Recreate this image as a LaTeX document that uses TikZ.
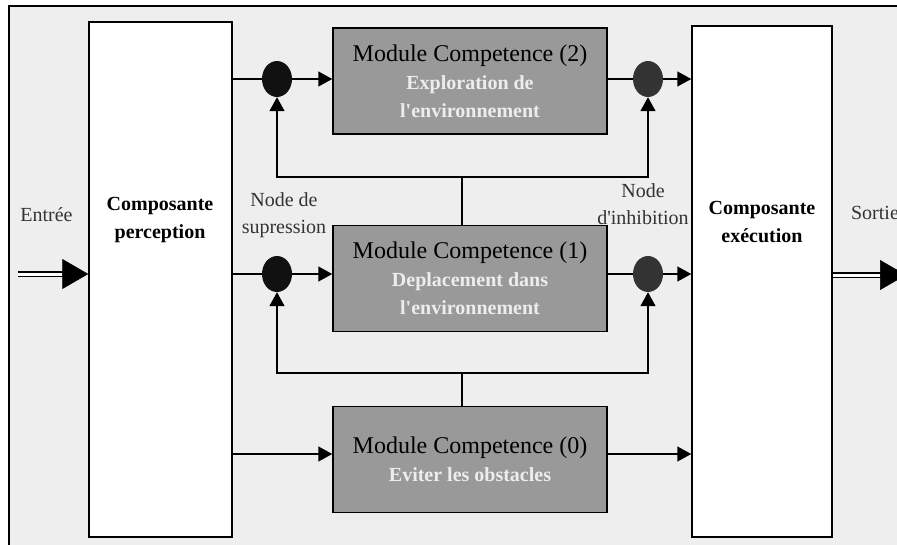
\documentclass[tikz,border=0pt]{standalone}
\usepackage{fontspec}
\setmainfont{Liberation Serif}
\usetikzlibrary{arrows.meta,shapes.geometric}
\definecolor{bgcol}{HTML}{EEEEEE}
\definecolor{modcol}{HTML}{999999}
\definecolor{inhcol}{HTML}{333333}
\definecolor{supcol}{HTML}{111111}
\newcommand{\modsub}{\fontsize{20}{26}\selectfont\bfseries\color{white!93!black}}

\begin{document}
\begin{tikzpicture}[x=1pt,y=-1pt,
    box/.style={draw,line width=1.5pt,fill=white,inner sep=0},
    module/.style={draw,line width=1.5pt,fill=modcol,minimum width=274pt,minimum height=106pt,
      align=center,inner sep=0,font=\fontsize{24}{28}\selectfont},
    dot/.style={ellipse,minimum width=30pt,minimum height=36pt,inner sep=0},
    boldtxt/.style={align=center,font=\fontsize{20}{28}\selectfont\bfseries},
    lbl/.style={align=center,text=black!80,font=\fontsize{20}{27}\selectfont},
    ln/.style={line width=1.5pt},
    arr/.style={line width=1.5pt,-{Triangle[length=14pt,width=15pt]}},
    bigarr/.style={line width=0.5pt,-{Triangle[length=26pt,width=30pt]}},
    dbl/.style={double,double distance=3pt,line width=1.2pt}]
    \useasboundingbox (0,0) rectangle (897,544);
    \clip (0,0) rectangle (897,544);
    \fill[bgcol] (9,6) rectangle (900,550);
    \draw[line width=2pt] (9,550) -- (9,6) -- (900,6);

    \node[box,minimum width=143pt,minimum height=515pt] (percep) at (160.5,279.5) {};
    \node[box,minimum width=140pt,minimum height=511pt] (exec) at (762,281.5) {};
    \node[boldtxt] (percepTxt) at (160,220) {Composante\\perception};
    \node[boldtxt] (execTxt) at (762,222) {Composante\\exécution};

    \node[module] (M2) at (470,81) {Module Competence (2)\\ \modsub Exploration de\\ \modsub l\textquotesingle environnement};
    \node[module] (M1) at (470,278.5) {Module Competence (1)\\ \modsub Deplacement dans\\ \modsub l\textquotesingle environnement};
    \node[module] (M0) at (470,459.5) {Module Competence (0)\\ \modsub Eviter les obstacles};

    \foreach \r/\s/\y/\f in {2/1/79/177, 1/0/274/373} {
      \node[dot,fill=supcol] (S\r) at (277,\y) {};
      \node[dot,fill=inhcol] (I\r) at (648,\y) {};
      \coordinate (fb\r) at (462,\f);
      \draw[ln] (percep.east |- S\r) -- (S\r);
      \draw[arr] (S\r) -- (M\r.west |- S\r);
      \draw[ln] (M\r.east |- I\r) -- (I\r);
      \draw[arr] (I\r) -- (exec.west |- I\r);
      \draw[ln] (M\s.north -| fb\r) -- (fb\r);
      \draw[arr] (fb\r) -| (S\r.south);
      \draw[arr] (fb\r) -| (I\r.south);
    }

    \coordinate (r0) at (0,454);
    \draw[arr] (percep.east |- r0) -- (M0.west |- r0);
    \draw[arr] (M0.east |- r0) -- (exec.west |- r0);

    \coordinate (inL) at (18,274);
    \coordinate (outR) at (906,275);
    \draw[dbl] (inL) -- ([xshift=-24pt]percep.west |- inL);
    \draw[bigarr] ([xshift=-26pt]percep.west |- inL) -- (percep.west |- inL);
    \draw[dbl] (exec.east |- outR) -- ([xshift=-24pt]outR);
    \draw[bigarr] ([xshift=-26pt]outR) -- (outR);

    \node[lbl] (inTxt) at (46.5,215) {Entrée};
    \node[lbl] (outTxt) at (875,213) {Sortie};
    \node[lbl] (supTxt) at (284,215) {Node de\\supression};
    \node[lbl] (inhTxt) at (643,204) {Node\\d\textquotesingle inhibition};
  \end{tikzpicture}
\end{document}
